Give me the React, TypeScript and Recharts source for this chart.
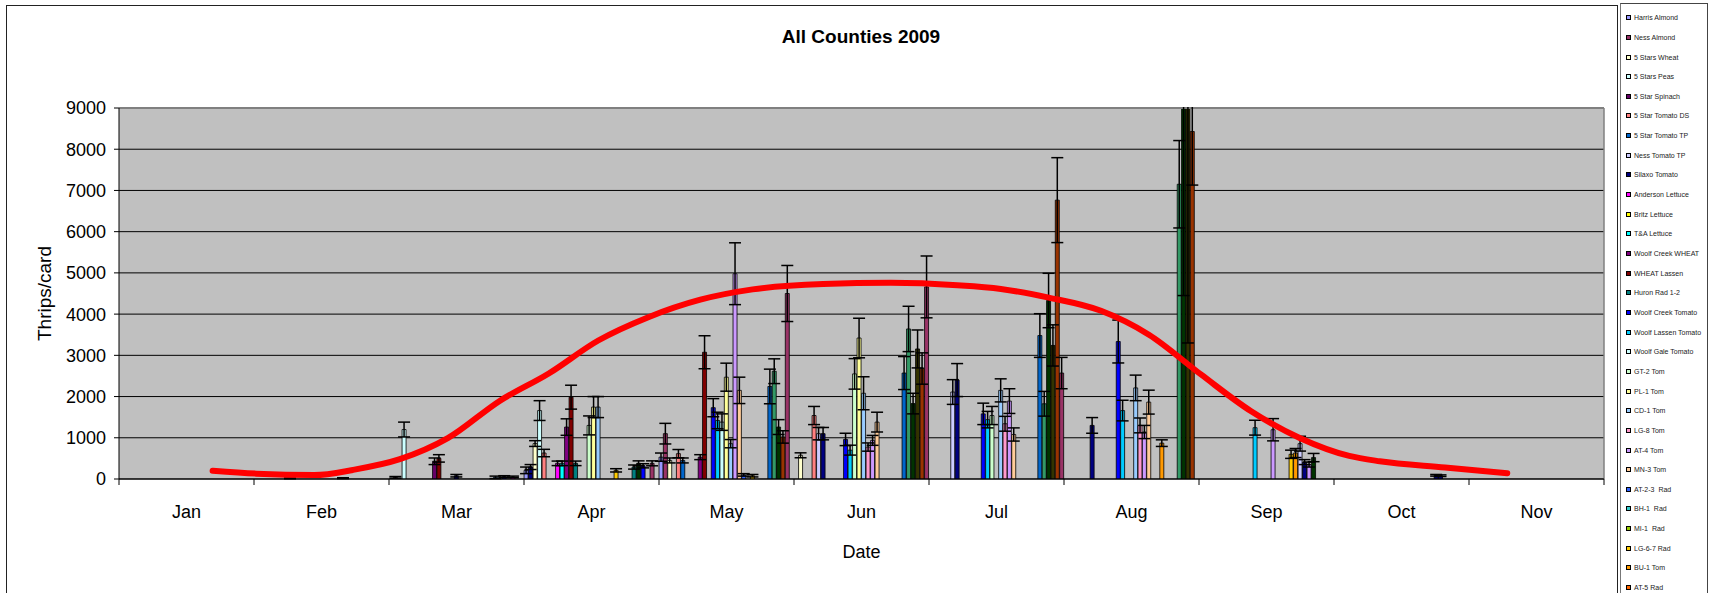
import React from "react";
import {
  ComposedChart,
  Bar,
  ErrorBar,
  Line,
  XAxis,
  YAxis,
  CartesianGrid,
  ReferenceLine,
  Label,
} from "recharts";

const FONT = "'Liberation Sans', Arial, sans-serif";

const months = ["Jan", "Feb", "Mar", "Apr", "May", "Jun", "Jul", "Aug", "Sep", "Oct", "Nov"];
const daysInMonth = [31, 28, 31, 30, 31, 30, 31, 31, 30, 31, 30, 31];
const yTicks = [0, 1000, 2000, 3000, 4000, 5000, 6000, 7000, 8000, 9000];

// first 30 are in the legend, the last ones are cut off in the original
const seriesNames = [
  "Harris Almond", "Ness Almond", "5 Stars Wheat", "5 Stars Peas", "5 Star Spinach",
  "5 Star Tomato DS", "5 Star Tomato TP", "Ness Tomato TP", "Silaxo Tomato", "Anderson Lettuce",
  "Britz Lettuce", "T&A Lettuce", "Woolf Creek WHEAT", "WHEAT Lassen", "Huron Rad 1-2",
  "Woolf Creek Tomato", "Woolf Lassen Tomato", "Woolf Gale Tomato", "GT-2 Tom", "PL-1 Tom",
  "CD-1 Tom", "LG-8 Tom", "AT-4 Tom", "MN-3 Tom", "AT-2-3  Rad",
  "BH-1  Rad", "MI-1  Rad", "LG-6-7 Rad", "BU-1 Tom", "AT-5 Rad",
  "", "", "", "", "",
];
const seriesColors = [
  "#9999ff", "#993366", "#ffffcc", "#ccffff", "#660066",
  "#ff8080", "#0066cc", "#ccccff", "#000080", "#ff00ff",
  "#ffff00", "#00ffff", "#800080", "#800000", "#008080",
  "#0000ff", "#00ccff", "#ccffff", "#ccffcc", "#ffff99",
  "#99ccff", "#ff99cc", "#cc99ff", "#ffcc99", "#3366ff",
  "#33cccc", "#99cc00", "#ffcc00", "#ff9900", "#ff6600",
  "#339966", "#003300", "#333300", "#993300", "#993366",
];
const legendCount = 30;

// one bar per sampling date: date, series index, mean, error
const barDates = [
  "02-08", "02-19", "03-02", "03-04", "03-11", "03-12", "03-16", "03-25", "03-27", "03-29",
  "04-01", "04-02", "04-03", "04-04", "04-05", "04-08", "04-09", "04-10", "04-11", "04-12",
  "04-15", "04-16", "04-17", "04-21", "04-25", "04-26", "04-27", "04-29",
  "05-01", "05-02", "05-03", "05-05", "05-06", "05-10", "05-11", "05-13", "05-14", "05-15",
  "05-16", "05-17", "05-18", "05-19", "05-20", "05-22", "05-26", "05-27", "05-28", "05-29", "05-30",
  "06-02", "06-05", "06-06", "06-07", "06-12", "06-13", "06-14", "06-15", "06-16", "06-17",
  "06-18", "06-19", "06-25", "06-26", "06-27", "06-28", "06-29", "06-30",
  "07-06", "07-07", "07-13", "07-14", "07-15", "07-17", "07-18", "07-19", "07-20",
  "07-26", "07-27", "07-28", "07-29", "07-30", "07-31",
  "08-07", "08-13", "08-14", "08-17", "08-18", "08-19", "08-20", "08-23",
  "08-27", "08-28", "08-29", "08-30",
  "09-13", "09-17", "09-21", "09-22", "09-23", "09-24", "09-25", "09-26",
  "10-24", "10-25",
];
const barSeries = [
  8, 8, 1, 3, 4, 13, 8, 6, 8, 9,
  0, 8, 2, 3, 5, 9, 11, 12, 13, 14,
  18, 19, 20, 27, 14, 31, 15, 1,
  0, 1, 2, 5, 6, 12, 13, 15, 16, 17,
  19, 20, 22, 23, 24, 27, 6, 30, 31, 33, 34,
  2, 5, 7, 8, 15, 16, 18, 19, 20, 21,
  22, 23, 6, 30, 31, 32, 33, 34,
  7, 8, 15, 16, 18, 20, 21, 22, 23,
  6, 30, 31, 32, 33, 34,
  8, 15, 16, 20, 21, 22, 23, 28,
  30, 31, 32, 33,
  16, 22, 27, 28, 7, 8, 22, 31,
  8, 8,
];
const barValues = [
  15, 20, 40, 1200, 430, 500, 80, 40, 60, 50,
  210, 290, 860, 1660, 630, 380, 380, 1260, 1985, 380,
  1300, 1745, 1745, 210, 290, 380, 320, 380,
  530, 1100, 450, 615, 450, 530, 3075, 1730, 1420, 1380,
  2470, 857, 4980, 2150, 100, 80, 2245, 2615, 1260, 1020, 4500,
  575, 1540, 1100, 1100, 960, 700, 2550, 3420, 2080, 775,
  937, 1380, 2570, 3640, 1830, 3155, 2680, 4660,
  2110, 2400, 1580, 1440, 1540, 2150, 1340, 1890, 1080,
  3480, 1825, 4330, 3240, 6765, 2570,
  1300, 3335, 1660, 2210, 1300, 1140, 1865, 870,
  7150, 9400, 9300, 8430,
  1245, 1195, 600, 630, 857, 410, 350, 520,
  90, 80,
];
const barErrors = [
  10, 10, 20, 180, 80, 90, 30, 30, 20, 20,
  80, 60, 70, 240, 90, 55, 55, 200, 290, 55,
  230, 255, 255, 40, 50, 60, 50, 60,
  100, 250, 60, 100, 60, 60, 400, 220, 200, 200,
  340, 100, 750, 320, 30, 30, 420, 300, 180, 150, 680,
  60, 220, 150, 150, 150, 120, 370, 480, 400, 100,
  120, 240, 400, 550, 250, 460, 380, 750,
  300, 400, 260, 200, 220, 280, 180, 300, 160,
  530, 300, 660, 500, 1030, 380,
  190, 520, 250, 310, 180, 160, 290, 80,
  1060, 4550, 5700, 1300,
  180, 270, 100, 110, 180, 60, 60, 100,
  20, 20,
];

const trendDates = [
  "01-22", "02-01", "02-13", "02-21", "03-03", "03-14", "03-26", "04-06", "04-17", "04-28",
  "05-10", "05-22", "06-07", "06-22", "07-07", "07-17", "07-28", "08-09", "08-20", "09-01",
  "09-12", "09-23", "10-04", "10-11", "10-26", "11-09",
];
const trendValues = [
  200, 130, 95, 220, 480, 990, 1900, 2560, 3360, 3920,
  4350, 4600, 4730, 4760, 4700, 4610, 4400, 4080, 3500, 2530,
  1650, 990, 560, 430, 280, 140,
];

function toMonthPos(date: string) {
  const [mm, dd] = date.split("-").map(Number);
  return mm - 1 + (dd - 0.5) / daysInMonth[mm - 1];
}

const barData = barDates.map((d, i) => ({
  x: toMonthPos(d),
  [`s${barSeries[i]}`]: barValues[i],
  [`s${barSeries[i]}e`]: barErrors[i],
}));

const trendData = trendDates.map((d, i) => ({ x: toMonthPos(d), trend: trendValues[i] }));

const CHART_W = 1617;
const CHART_H = 593;
const MARGIN = { top: 108, right: 13, bottom: 0, left: 34 };
const Y_AXIS_W = 85;
const PLOT_LEFT = MARGIN.left + Y_AXIS_W;
const PLOT_W = CHART_W - MARGIN.left - MARGIN.right - Y_AXIS_W;
const MONTH_W = PLOT_W / months.length;

const monthTicks = months.map((_, i) => i).concat(months.length);

function MonthTick(props: any) {
  const { x, y, payload } = props;
  const i = payload.value;
  if (i >= months.length) return <g />;
  return (
    <text x={x + MONTH_W / 2} y={y} dy={31} textAnchor="middle" fontSize={18} fill="#000" fontFamily={FONT}>
      {months[i]}
    </text>
  );
}

function YTitle(props: any) {
  const vb = props.viewBox;
  const cx = vb.x + 10;
  const cy = vb.y + vb.height / 2;
  return (
    <text
      transform={`translate(${cx},${cy}) rotate(-90)`}
      textAnchor="middle"
      dominantBaseline="central"
      fontSize={19}
      fill="#000"
      fontFamily={FONT}
    >
      Thrips/card
    </text>
  );
}

function LegendBox() {
  return (
    <div
      style={{
        position: "absolute",
        left: 1620,
        top: 3,
        width: 86,
        height: 600,
        borderLeft: "1px solid #777",
        borderRight: "1px solid #444",
        borderTop: "1px solid #444",
        fontFamily: FONT,
        fontSize: 7,
        color: "#222",
      }}
    >
      {seriesNames.slice(0, legendCount).map((name, i) => (
        <div
          key={name}
          style={{ position: "absolute", left: 5, top: 12.7 + i * 19.65 - 3, height: 8, display: "flex", alignItems: "center", whiteSpace: "pre" }}
        >
          <span
            style={{
              display: "inline-block",
              width: 3,
              height: 3,
              border: "1px solid #000",
              background: seriesColors[i],
              marginRight: 3,
            }}
          />
          {name}
        </div>
      ))}
    </div>
  );
}

export default function App() {
  return (
    <div style={{ position: "absolute", left: 0, top: 0, width: 1711, height: 593, background: "#fff", overflow: "hidden" }}>
      <div style={{ position: "absolute", left: 0, top: 0 }}>
        <ComposedChart width={CHART_W} height={CHART_H} data={barData} margin={MARGIN}>
          <CartesianGrid vertical={false} stroke="#000" fill="#c0c0c0" />
          <XAxis
            type="number"
            dataKey="x"
            domain={[0, months.length]}
            ticks={monthTicks}
            interval={0}
            height={CHART_H - 479}
            tickSize={6}
            tick={<MonthTick />}
            stroke="#000"
          >
            <Label value="Date" position="insideBottom" offset={35} fontSize={18} fill="#000" fontFamily={FONT} />
          </XAxis>
          <YAxis
            type="number"
            domain={[0, 9000]}
            ticks={yTicks}
            allowDataOverflow
            width={Y_AXIS_W}
            tickSize={5}
            tickMargin={8}
            stroke="#000"
            tick={{ fontSize: 18, fill: "#000", fontFamily: FONT }}
          >
            <Label content={<YTitle />} />
          </YAxis>
          <ReferenceLine y={9000} stroke="#808080" strokeWidth={2} />
          <ReferenceLine x={months.length} stroke="#808080" strokeWidth={1.5} />
          {seriesColors.map((color, i) => (
            <Bar
              key={i}
              dataKey={`s${i}`}
              name={seriesNames[i]}
              stackId="a"
              barSize={4}
              fill={color}
              stroke="#000"
              strokeWidth={0.8}
              isAnimationActive={false}
            >
              <ErrorBar dataKey={`s${i}e`} width={6} stroke="#000" strokeWidth={1.5} />
            </Bar>
          ))}
          <Line
            data={trendData}
            dataKey="trend"
            type="monotone"
            stroke="#ff0000"
            strokeWidth={6}
            strokeLinecap="round"
            dot={false}
            activeDot={false}
            isAnimationActive={false}
          />
        </ComposedChart>
      </div>
      {/* error bars are not clipped by the plot area: hide what runs above it */}
      <div
        style={{
          position: "absolute",
          left: PLOT_LEFT,
          top: 0,
          width: PLOT_W + 4,
          height: MARGIN.top - 1.5,
          background: "#fff",
        }}
      />
      <div
        style={{
          position: "absolute",
          left: 6,
          top: 5,
          width: 1610,
          height: 620,
          border: "1.5px solid #222",
        }}
      />
      <div
        style={{
          position: "absolute",
          left: 661,
          top: 26,
          width: 400,
          textAlign: "center",
          fontFamily: FONT,
          fontWeight: "bold",
          fontSize: 19,
          lineHeight: "22px",
        }}
      >
        All Counties 2009
      </div>
      <LegendBox />
    </div>
  );
}
